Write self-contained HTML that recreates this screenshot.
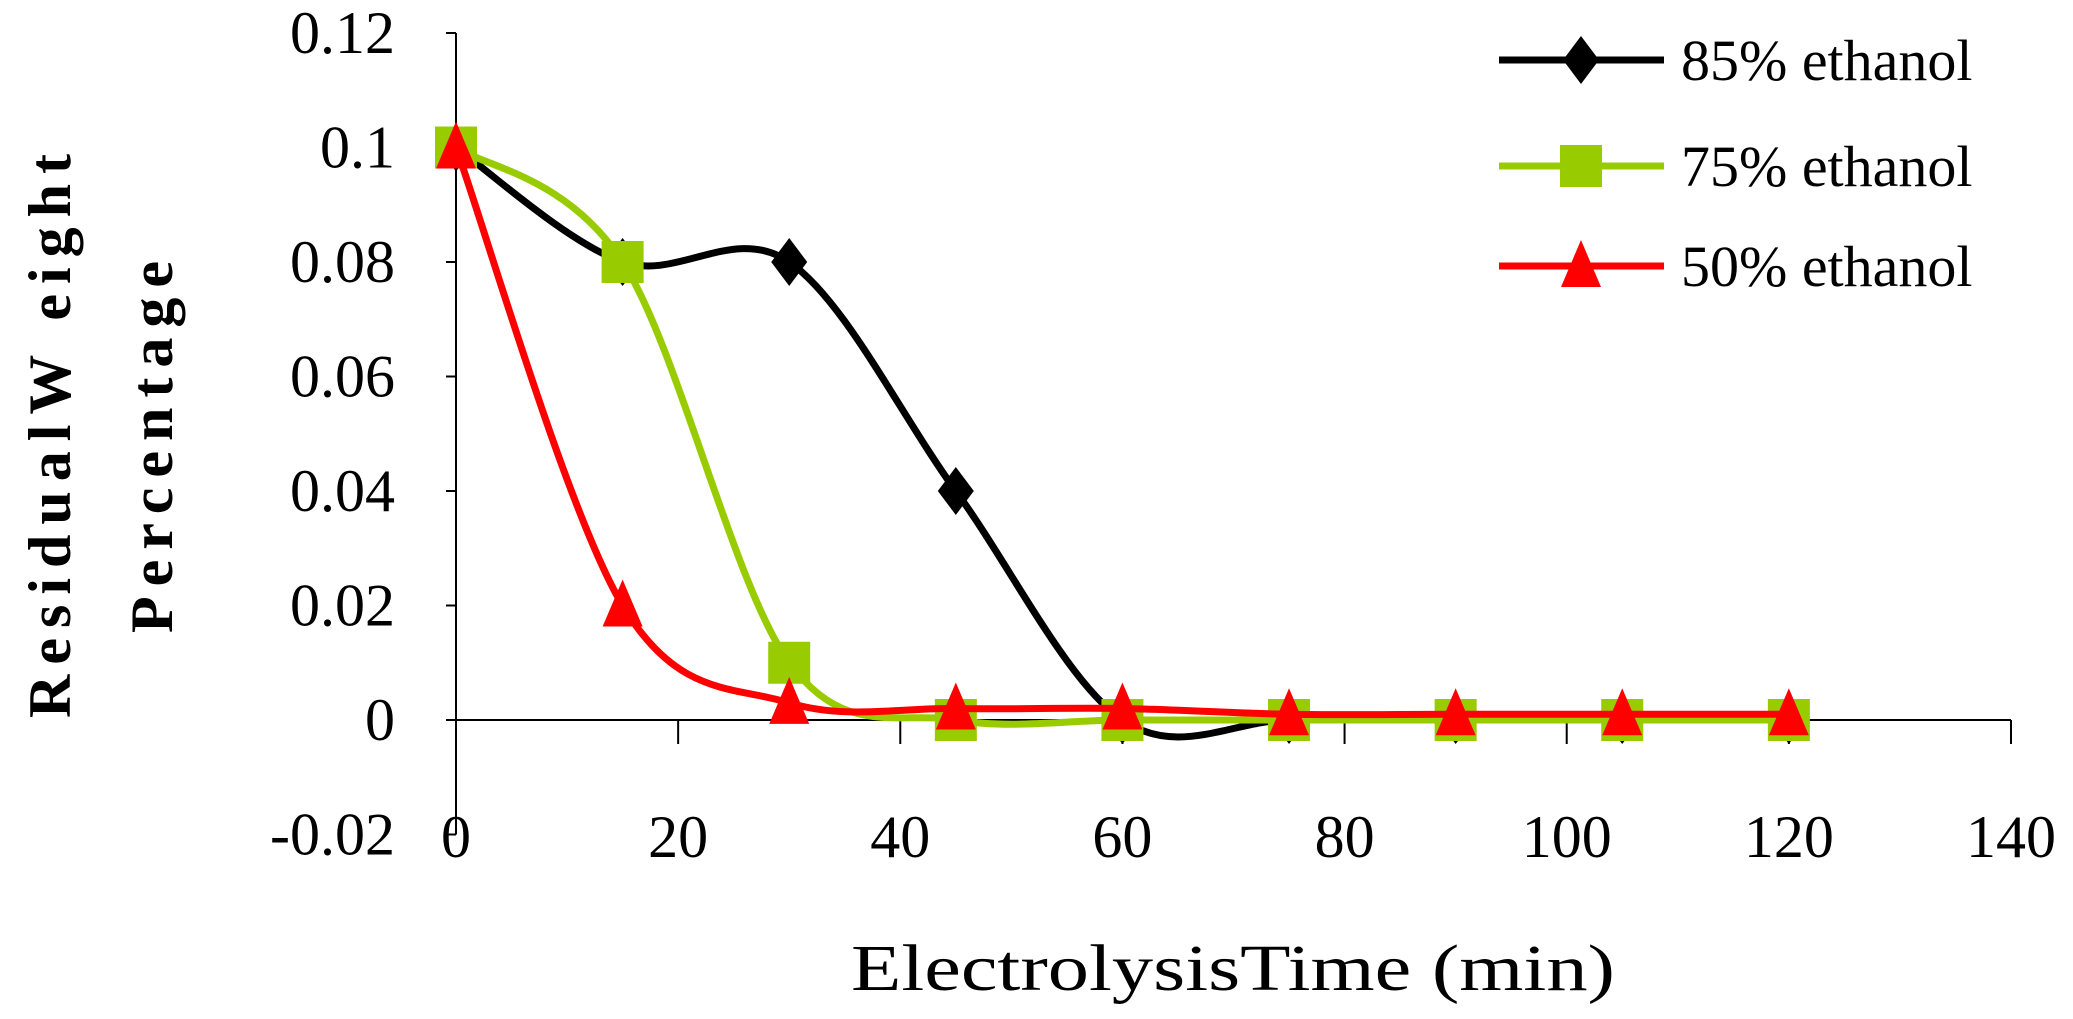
<!DOCTYPE html>
<html><head><meta charset="utf-8"><style>
html,body{margin:0;padding:0;background:#fff;}
svg{display:block;}
text{font-family:"Liberation Serif",serif;fill:#000;}
</style></head><body>
<svg id="chart" width="2073" height="1019" viewBox="0 0 2073 1019" xmlns="http://www.w3.org/2000/svg">
<g id="axes"></g>
<g id="series"></g>
<g id="legend"></g>
<text transform="translate(70,431) rotate(-90)" text-anchor="middle" font-size="60" font-weight="bold" letter-spacing="10">ResidualW eight</text>
<text transform="translate(172,442) rotate(-90)" text-anchor="middle" font-size="60" font-weight="bold" letter-spacing="10">Percentage</text>
<text x="1233" y="990" text-anchor="middle" font-size="66" textLength="764" lengthAdjust="spacingAndGlyphs">ElectrolysisTime (min)</text>
</svg>
<script>
const xTicks=[0,20,40,60,80,100,120,140];
const yTicks=[-0.02,0,0.02,0.04,0.06,0.08,0.1,0.12];
const yTickLabels=["-0.02","0","0.02","0.04","0.06","0.08","0.1","0.12"];
const times=[0,15,30,45,60,75,90,105,120];
const s85=[0.1,0.08,0.08,0.04,0,0,0,0,0];
const s75=[0.1,0.08,0.01,0,0,0,0,0,0];
const s50=[0.1,0.02,0.003,0.002,0.002,0.001,0.001,0.001,0.001];
const seriesNames=["85%  ethanol","75% ethanol","50% ethanol"];

const NS="http://www.w3.org/2000/svg";
const X=v=>456+(v-0)*(2011-456)/140;
const Y=v=>720-(v)*(720-33)/0.12;
function mk(tag,attrs,parent){const e=document.createElementNS(NS,tag);for(const k in attrs)e.setAttribute(k,attrs[k]);parent.appendChild(e);return e;}
const axes=document.getElementById('axes');
let l=mk('line',{x1:X(0),y1:Y(0.12),x2:X(0),y2:Y(-0.02),stroke:'#000','stroke-width':2},axes);


l=mk('line',{x1:X(0),y1:Y(0),x2:X(140),y2:Y(0),stroke:'#000','stroke-width':2},axes);


yTicks.forEach((v,i)=>{
  const t=mk('line',{x1:X(0)-10,y1:Y(v),x2:X(0),y2:Y(v),stroke:'#000','stroke-width':2},axes);
  
  
  const tx=mk('text',{x:395,y:Y(v)+20,'text-anchor':'end','font-size':60},axes);
  tx.textContent=yTickLabels[i];
  
  
});
xTicks.forEach(v=>{
  const t=mk('line',{x1:X(v),y1:Y(0),x2:X(v),y2:Y(0)+24,stroke:'#000','stroke-width':2},axes);
  
  
  const tx=mk('text',{x:X(v),y:857,'text-anchor':'middle','font-size':60},axes);
  tx.textContent=String(v);
  
  
});
function smooth(pts){
  let d=`M${pts[0][0]},${pts[0][1]}`;
  for(let i=0;i<pts.length-1;i++){
    const p0=pts[Math.max(i-1,0)],p1=pts[i],p2=pts[i+1],p3=pts[Math.min(i+2,pts.length-1)];
    const c1=[p1[0]+(p2[0]-p0[0])/6,p1[1]+(p2[1]-p0[1])/6];
    const c2=[p2[0]-(p3[0]-p1[0])/6,p2[1]-(p3[1]-p1[1])/6];
    d+=` C${c1[0]},${c1[1]} ${c2[0]},${c2[1]} ${p2[0]},${p2[1]}`;
  }
  return d;
}
function marker(type,x,y,color,parent){
  let e;
  if(type==='diamond') e=mk('polygon',{points:`${x},${y-24} ${x+18},${y} ${x},${y+24} ${x-18},${y}`,fill:color},parent);
  else if(type==='square') e=mk('rect',{x:x-21,y:y-21,width:42,height:42,fill:color},parent);
  else e=mk('polygon',{points:`${x},${y-26} ${x+20},${y+21} ${x-20},${y+21}`,fill:color},parent);
  return e;
}
const ser=document.getElementById('series');
const defs=[[s85,'#000','diamond','series-85'],[s75,'#99cc00','square','series-75'],[s50,'#ff0000','triangle','series-50']];
defs.forEach(([vals,col,mt,nm])=>{
  const g=mk('g',{},ser);
  
  
  const pts=times.map((t,i)=>[X(t),Y(vals[i])]);
  const p=mk('path',{d:smooth(pts),fill:'none',stroke:col,'stroke-width':7},g);
  
  
  pts.forEach(q=>{
    const m=marker(mt,q[0],q[1],col,g);
    
    
  });
});
const leg=document.getElementById('legend');
const legY=[60,166,266];
defs.forEach(([vals,col,mt,nm],i)=>{
  const g=mk('g',{},leg);
  
  
  mk('line',{x1:1499,y1:legY[i],x2:1664,y2:legY[i],stroke:col,'stroke-width':7},g);
  marker(mt,1581,legY[i],col,g);
  const t=mk('text',{x:1681,y:legY[i]+20,'font-size':58},g);
  t.setAttribute('xml:space','preserve');
  t.textContent=seriesNames[i];
});
</script>
</body></html>
